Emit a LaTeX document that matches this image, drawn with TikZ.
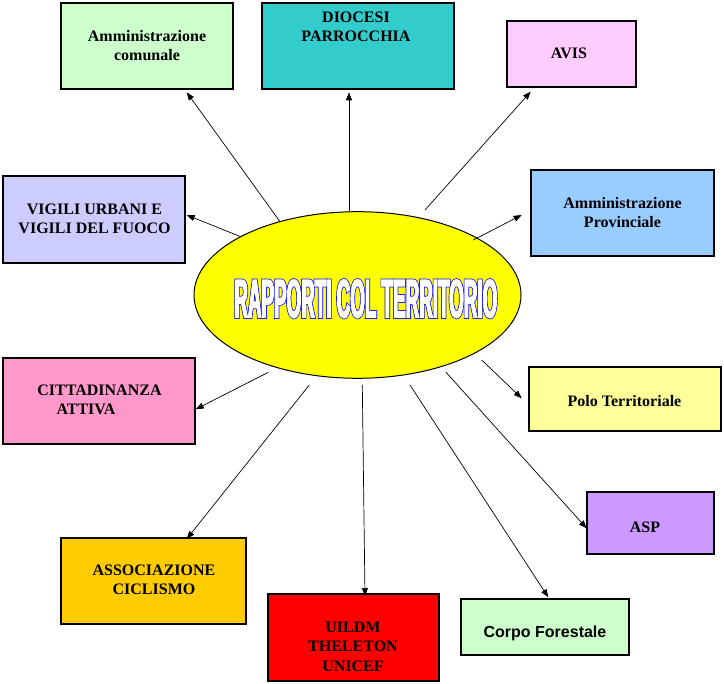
\documentclass[tikz,border=0pt]{standalone}
\usepackage{fontspec}
\usetikzlibrary{shapes.geometric,arrows.meta}
\setmainfont{Liberation Serif}
\newfontfamily\sansf{Liberation Sans}
\newfontfamily\titlef{Liberation Sans}[FakeStretch=0.345]
\definecolor{cA}{HTML}{CCFFCC}
\definecolor{cB}{HTML}{33CCCC}
\definecolor{cC}{HTML}{FFCCFF}
\definecolor{cD}{HTML}{99CCFF}
\definecolor{cE}{HTML}{CCCCFF}
\definecolor{cF}{HTML}{FF99CC}
\definecolor{cG}{HTML}{FFFF99}
\definecolor{cH}{HTML}{CC99FF}
\definecolor{cI}{HTML}{FFCC00}
\definecolor{cJ}{HTML}{FF0000}
\definecolor{cY}{HTML}{FFFF00}
\definecolor{cBlue}{HTML}{0000FF}
\newcommand\strk[2]{\special{pdf:literal direct 2 Tr #1 w}#2\special{pdf:literal direct 0 Tr}}
\tikzset{
  box/.style={draw=black, line width=1.2pt, rectangle, inner sep=0pt},
  lbl/.style={font=\bfseries\fontsize{16}{19.2}\selectfont, align=center, inner sep=0pt},
  arr/.style={line width=0.7pt, -{Triangle[length=8pt,width=6pt]}},
}
\begin{document}
\begin{tikzpicture}[x=1pt,y=-1pt]
\useasboundingbox (0,0) rectangle (724,684);
\fill[white] (0,0) rectangle (724,684);
% boxes
\node[box, fill=cA, minimum width=172pt, minimum height=86pt] (b1) at (147,46) {};
\node[box, fill=cB, minimum width=192pt, minimum height=86pt] (b2) at (358,46) {};
\node[box, fill=cC, minimum width=129pt, minimum height=66pt] (b3) at (571.5,54) {};
\node[box, fill=cD, minimum width=183pt, minimum height=86pt] (b4) at (622.5,213) {};
\node[box, fill=cE, minimum width=182pt, minimum height=87pt] (b5) at (94,219.5) {};
\node[box, fill=cF, minimum width=192pt, minimum height=86pt] (b6) at (99,401) {};
\node[box, fill=cG, minimum width=192pt, minimum height=64pt] (b7) at (625,399) {};
\node[box, fill=cH, minimum width=127pt, minimum height=62pt] (b8) at (650.5,523) {};
\node[box, fill=cA, minimum width=168pt, minimum height=56pt] (b9) at (545,627) {};
\node[box, fill=cI, minimum width=185pt, minimum height=86pt] (b10) at (153.5,581) {};
\node[box, fill=cJ, minimum width=171pt, minimum height=87pt] (b11) at (353.5,637.5) {};
% labels
\node[lbl] (t1) at (147,45.5) {Amministrazione\\comunale};
\node[lbl] (t2) at (356,26.7) {DIOCESI\\PARROCCHIA};
\node[lbl] (t3) at (569,53.5) {AVIS};
\node[lbl] (t4) at (622.5,212.5) {Amministrazione\\Provinciale};
\node[lbl] (t5) at (94.5,218.8) {VIGILI URBANI E\\VIGILI DEL FUOCO};
\node[lbl] (t6) at (99.5,400) {CITTADINANZA\\\makebox[86pt][l]{ATTIVA}};
\node[lbl] (t7) at (624.5,401.5) {Polo Territoriale};
\node[lbl] (t8) at (645,527.5) {ASP};
\node[lbl, font=\sansf\bfseries\fontsize{16}{19.2}\selectfont, text depth=0pt] (t9) at (545,632) {Corpo Forestale};
\node[lbl] (t10) at (154,579.5) {ASSOCIAZIONE\\CICLISMO};
\node[lbl] (t11) at (353,646.7) {UILDM\\THELETON\\UNICEF};
% centre
\node[ellipse, draw=black, line width=1pt, fill=cY, minimum width=327pt, minimum height=166.6pt, inner sep=0pt] (ell) at (357.5,295) {};
\node[inner sep=0pt, font=\titlef\bfseries\fontsize{54.5}{54.5}\selectfont] (title) at (365.8,298.7) {%
\rlap{\color{cBlue}\strk{2.6}{RAPPORTI COL TERRITORIO}}%
{\color{white}\strk{1.2}{RAPPORTI COL TERRITORIO}}};
% arrow end points
\coordinate (s1) at (280,221.7);   \coordinate (e1) at (186.7,92.3);
\coordinate (s2) at (349,211);     \coordinate (e2) at (349,92.3);
\coordinate (s3) at (425,210);     \coordinate (e3) at (530.7,91.7);
\coordinate (s4) at (473.3,240);   \coordinate (e4) at (521.7,215);
\coordinate (s5) at (240.7,236.7); \coordinate (e5) at (186.7,215);
\coordinate (s6) at (268.3,372.3); \coordinate (e6) at (195.7,409.3);
\coordinate (s7) at (481.7,360);   \coordinate (e7) at (521.7,398.3);
\coordinate (s8) at (446,372.3);   \coordinate (e8) at (586.7,528.3);
\coordinate (s9) at (410,385);     \coordinate (e9) at (548.3,597.3);
\coordinate (s10) at (362.3,385);  \coordinate (e10) at (365,596);
\coordinate (s11) at (309.3,385);  \coordinate (e11) at (186.7,539);
\foreach \i in {1,...,11} { \draw[arr] (s\i) -- (e\i); }
\end{tikzpicture}
\end{document}
